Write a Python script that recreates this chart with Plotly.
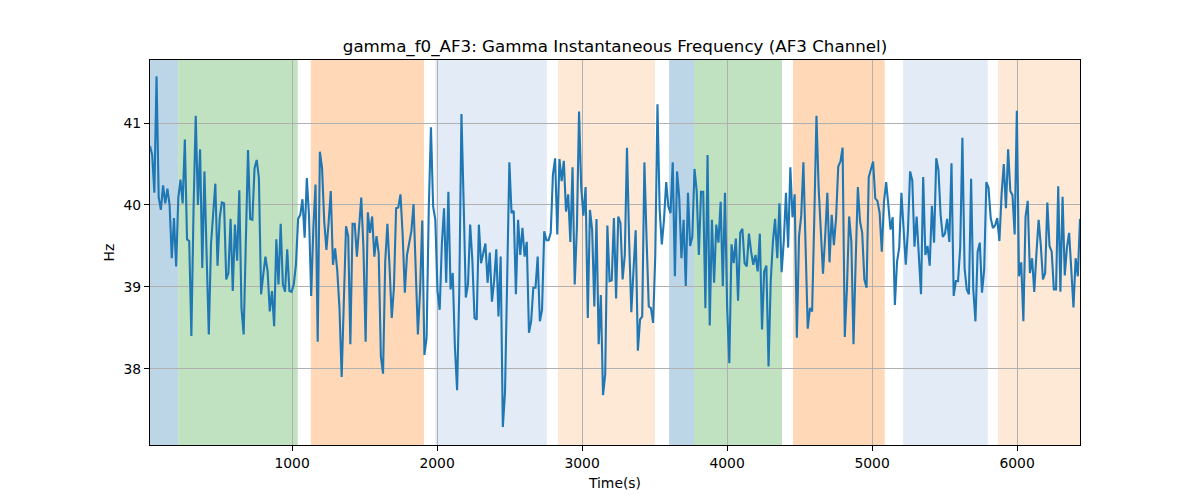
import numpy as np
import plotly.graph_objects as go

# ---- data ----
title_text = "gamma_f0_AF3: Gamma Instantaneous Frequency (AF3 Channel)"
x_label = "Time(s)"
y_label = "Hz"

t_start = 20
t_end = 6434

freq_hz = [
    # segment 1
    40.72, 40.61, 40.15, 41.57, 40.09, 39.94, 40.24, 40.02, 40.20, 40.00,
    39.35, 39.84, 39.25, 40.09, 40.31, 40.02, 40.80, 39.58, 39.56, 38.40,
    39.96, 41.09, 40.00, 40.68, 39.23, 40.41, 39.39, 38.42, 39.52, 39.96,
    40.26, 39.26, 39.84, 40.03, 40.02, 39.09, 39.17, 39.83, 38.95, 39.76,
    39.32, 40.18, 38.74, 38.42, 39.52, 40.67, 39.83, 39.82, 40.45, 40.55,
    40.33, 38.91,
    # segment 2
    39.15, 39.37, 39.19, 38.70, 38.95, 38.52, 39.58, 39.03, 39.77, 39.03,
    38.94, 39.46, 38.95, 38.94, 39.03, 39.27, 39.83, 39.88, 40.07, 39.60,
    40.33, 39.88, 38.89, 39.72, 40.25, 38.33, 40.65, 40.45, 39.80, 39.45,
    39.78, 40.17, 39.27, 39.47, 39.19, 38.74, 37.90, 38.74, 39.74, 39.62,
    38.30, 39.77, 39.77, 39.37, 39.72, 40.09, 39.48, 38.33, 39.91, 39.66,
    39.86, 39.37, 39.62,
    # segment 3
    39.41, 38.15, 37.94, 39.31, 39.77, 39.23, 38.62, 38.99, 39.96, 39.97,
    40.13, 39.64, 38.93, 39.39, 39.54, 39.68, 40.01, 39.23, 38.42, 38.95,
    39.81, 38.17, 38.38, 39.96, 40.95, 39.98, 39.82, 38.95, 38.72, 39.52,
    39.96, 39.05, 40.16, 38.97, 39.17, 38.26, 37.74, 38.95, 41.11, 40.04,
    38.87, 39.03, 39.76, 39.33, 38.62, 38.60, 39.76, 39.29, 39.43, 39.53,
    39.05, 39.42, 38.82,
    # segment 4
    39.07, 39.46, 38.64, 39.37, 37.29, 37.71, 38.99, 40.52, 39.90, 39.93,
    38.91, 39.82, 39.39, 39.72, 39.37, 39.55, 38.44, 38.58, 38.99, 38.99,
    39.37, 38.58, 38.72, 39.68, 39.57, 39.57, 39.66, 40.37, 40.57, 39.64,
    40.56, 40.29, 40.54, 39.92, 40.13, 39.55, 40.46, 39.03, 39.72, 41.14,
    40.21, 39.87, 40.22, 38.62, 39.94, 39.70, 38.76, 39.83, 38.30, 38.90,
    37.68, 37.93, 39.75,
    # segment 5
    39.07, 39.08, 39.84, 38.86, 39.86, 39.78, 39.09, 39.39, 40.70, 39.56,
    38.69, 39.21, 39.69, 38.22, 38.60, 38.64, 40.52, 39.58, 38.76, 38.74,
    38.56, 39.39, 41.23, 39.94, 39.52, 39.82, 40.28, 39.98, 39.90, 40.52,
    39.13, 40.41, 40.09, 39.35, 39.82, 39.01, 40.15, 39.50, 39.61, 40.44,
    40.17, 39.39, 40.16, 40.16, 38.74, 40.61, 38.53, 39.82, 39.05, 39.76,
    39.54, 40.04, 39.01,
    # segment 6
    40.15, 38.74, 38.07, 39.52, 39.29, 39.59, 38.83, 39.66, 39.71, 39.29,
    39.25, 39.65, 39.43, 39.27, 39.39, 39.19, 39.65, 38.48, 39.19, 39.26,
    38.03, 39.07, 39.55, 39.83, 39.35, 40.02, 39.18, 39.56, 40.15, 39.48,
    40.46, 39.85, 40.13, 38.38, 39.62, 39.87, 40.52, 39.64, 38.49, 38.74,
    38.70, 39.84, 41.09, 40.21, 39.58, 39.16, 39.62, 40.15, 39.30, 39.88,
    39.51, 39.84, 40.47,
    # segment 7
    40.53, 40.70, 38.39, 38.99, 39.86, 39.56, 38.30, 39.31, 40.22, 39.80,
    39.66, 39.09, 38.99, 40.34, 40.43, 40.53, 40.08, 40.05, 39.90, 39.43,
    40.04, 40.28, 40.00, 39.70, 39.85, 38.78, 39.31, 39.48, 40.15, 39.72,
    39.27, 39.69, 40.41, 40.30, 39.49, 39.86, 39.35, 38.91, 40.34, 39.39,
    39.50, 39.26, 39.99, 39.54, 40.57, 40.43, 39.88, 39.61, 39.65, 39.83,
    39.55, 40.51, 38.89,
    # segment 8
    39.07, 39.07, 39.48, 40.82, 39.23, 38.97, 38.91, 40.32, 38.97, 38.58,
    39.43, 39.54, 38.93, 39.21, 40.28, 40.21, 39.84, 39.72, 39.75, 39.84,
    39.56, 40.13, 40.50, 39.96, 40.68, 40.17, 40.12, 39.64, 41.15, 39.13,
    39.30, 38.58, 39.86, 40.05, 39.17, 39.35, 38.94, 39.41, 39.82, 39.51,
    39.09, 39.17, 40.03, 39.50, 39.43, 38.97, 38.97, 40.23, 38.94, 40.10,
    39.14, 39.48, 39.66, 39.21, 38.75, 39.35, 39.13, 39.83,
]

region_starts = [20, 214, 1129, 1988, 2834, 3600, 3772, 4455, 5214, 5869]
region_ends = [214, 1039, 1910, 2757, 3503, 3772, 4379, 5087, 5798, 6434]
region_colors = ["#bcd6e8", "#c0e2c0", "#ffd9b7", "#e3ecf6", "#fee8d6",
                 "#bcd6e8", "#c0e2c0", "#ffd9b7", "#e3ecf6", "#fee8d6"]

x_ticks = [1000, 2000, 3000, 4000, 5000, 6000]
y_ticks = [38, 39, 40, 41]

# ---- figure ----
time_s = np.linspace(t_start, t_end, len(freq_hz))

fig = go.Figure()
fig.add_trace(go.Scatter(x=time_s, y=freq_hz, mode="lines",
                         line=dict(color="#1f77b4", width=2.1),
                         showlegend=False, hoverinfo="skip"))

for s, e, c in zip(region_starts, region_ends, region_colors):
    fig.add_shape(type="rect", xref="x", yref="paper", x0=s, x1=e, y0=0, y1=1,
                  fillcolor=c, line=dict(width=0), layer="below")

font = "DejaVu Sans, sans-serif"
fig.update_layout(
    width=1200, height=500,
    margin=dict(l=142, r=128, t=52, b=63),
    paper_bgcolor="white", plot_bgcolor="white",
    font=dict(family=font, size=13.9, color="black"),
    title=dict(text=title_text, x=0.5, xref="paper", y=1 - 38 / 500,
               yref="container", yanchor="middle", xanchor="center",
               font=dict(size=16.7, family=font, color="black")),
)
fig.update_xaxes(
    range=[t_start, t_end], tickvals=x_ticks, ticks="outside", ticklen=5,
    tickwidth=1, tickcolor="black", showgrid=True, gridcolor="#b0b0b0",
    gridwidth=1, showline=True, linecolor="black", linewidth=1, mirror=True,
    zeroline=False, title=dict(text=x_label, standoff=8, font=dict(size=13.9)),
)
fig.update_yaxes(
    range=[37.07, 41.77], tickvals=y_ticks, ticks="outside", ticklen=5,
    tickwidth=1, tickcolor="black", showgrid=True, gridcolor="#b0b0b0",
    gridwidth=1, showline=True, linecolor="black", linewidth=1, mirror=True,
    zeroline=False, title=dict(text=y_label, standoff=5, font=dict(size=13.9)),
)

fig.write_html("out.html")
